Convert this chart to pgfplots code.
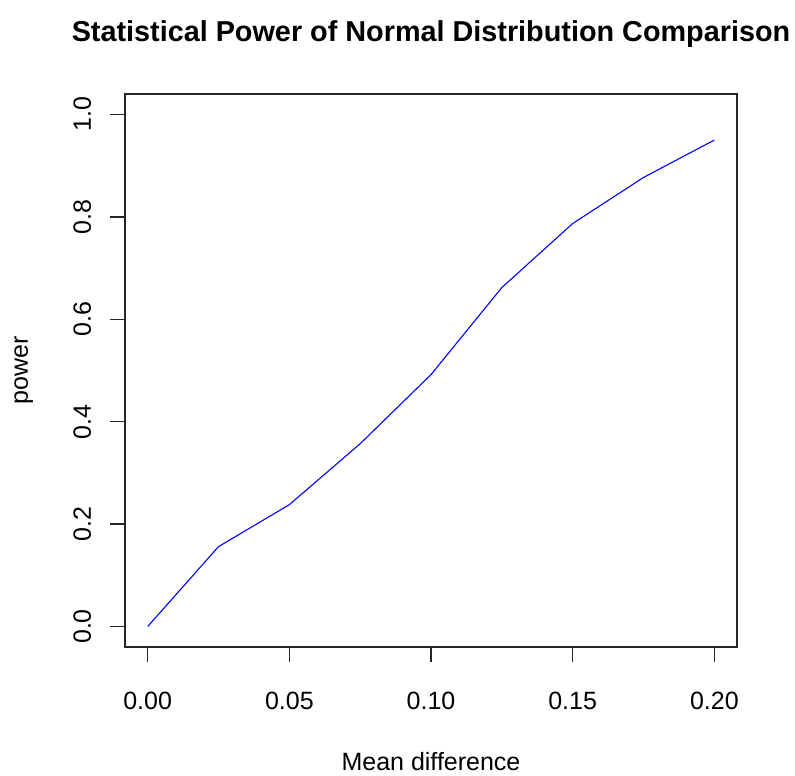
\documentclass[border=0pt]{standalone}
\usepackage{fontspec}
\setmainfont{Liberation Sans}
\usepackage{pgfplots}
\usetikzlibrary{calc}
\pgfplotsset{compat=1.18}
\begin{document}
\begin{tikzpicture}
\begin{axis}[
  name=ax, at={(0,0)}, anchor=south west,
  scale only axis, width=306pt, height=276.5pt,
  xmin=-0.008, xmax=0.208, ymin=-0.04, ymax=1.04,
  axis line style={line width=0.75pt, black!85},
  xtick={0,0.05,0.1,0.15,0.2},
  xticklabels={0.00,0.05,0.10,0.15,0.20},
  ytick={0,0.2,0.4,0.6,0.8,1.0},
  yticklabels={0.0,0.2,0.4,0.6,0.8,1.0},
  xtick pos=bottom, ytick pos=left,
  tick align=outside, major tick length=7.5pt,
  tick style={line width=0.75pt, black!85},
  font=\fontsize{12.5}{15}\selectfont,
  /pgf/number format/assume math mode=true,
  xticklabel style={anchor=base, yshift=-23.5pt},
  yticklabel style={xshift=-9.5pt, rotate=90, anchor=base},
  clip=false,
]
\addplot[color={rgb,255:red,0;green,0;blue,255}, line width=0.55pt] coordinates {
(0,0) (0.025,0.156) (0.05,0.238) (0.075,0.357) (0.1,0.492)
(0.125,0.662) (0.15,0.787) (0.175,0.877) (0.2,0.950)
};
\end{axis}
\path[use as bounding box] (ax.south west) ++(-62.5pt,-64pt) rectangle ++(397.5pt,387.5pt);
\node[anchor=base, font=\fontsize{14.4}{17}\selectfont\bfseries] at ($(ax.south west)+(153pt,302.5pt)$) {Statistical Power of Normal Distribution Comparison};
\node[anchor=base, font=\fontsize{12.5}{15}\selectfont] at ($(ax.south west)+(153pt,-61.5pt)$) {Mean difference};
\node[anchor=base, rotate=90, font=\fontsize{12.5}{15}\selectfont] at ($(ax.south west)+(-48.5pt,138.25pt)$) {power};
\end{tikzpicture}
\end{document}
